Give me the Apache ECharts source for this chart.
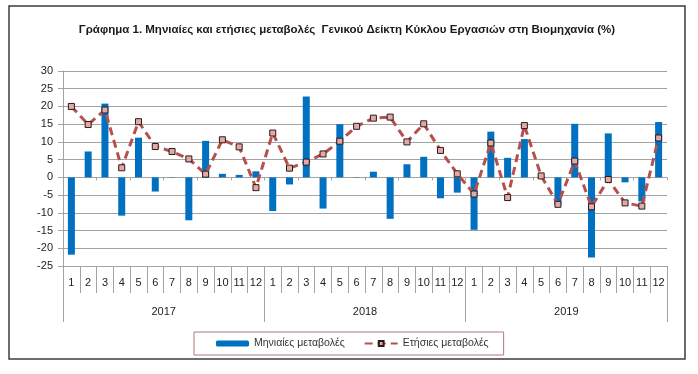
<!DOCTYPE html>
<html>
<head>
<meta charset="utf-8">
<script src="https://cdn.jsdelivr.net/npm/echarts@6/dist/echarts.min.js"></script>
<style>
html,body{margin:0;padding:0;background:#fff;}
#c{width:698px;height:374px;}
</style>
</head>
<body>
<div id="c"></div>
<script>
var months = ['1','2','3','4','5','6','7','8','9','10','11','12',
              '1','2','3','4','5','6','7','8','9','10','11','12',
              '1','2','3','4','5','6','7','8','9','10','11','12'];
var years = ['2017','2018','2019'];
var monthlyChange = [-21.8, 7.3, 20.8, -10.8, 11.2, -4.0, -0.1, -12.1, 10.3, 1.0, 0.7, 1.7,
                     -9.5, -2.0, 22.8, -8.8, 15.0, 0.1, 1.6, -11.7, 3.7, 5.8, -5.9, -4.3,
                     -14.8, 12.9, 5.5, 10.8, 0.3, -7.8, 15.1, -22.6, 12.4, -1.4, -6.8, 15.6];
var annualChange = [20.0, 14.9, 19.0, 2.7, 15.7, 8.7, 7.3, 5.2, 0.9, 10.6, 8.6, -2.9,
                    12.5, 2.6, 4.3, 6.6, 10.2, 14.4, 16.7, 17.0, 10.0, 15.1, 7.6, 1.0,
                    -4.7, 9.7, -5.7, 14.6, 0.4, -7.6, 4.6, -8.3, -0.6, -7.2, -8.1, 11.1];
var titleText = 'Γράφημα 1. Μηνιαίες και ετήσιες μεταβολές  Γενικού Δείκτη Κύκλου Εργασιών στη Βιομηχανία (%)';
var seriesNames = ['Μηνιαίες μεταβολές', 'Ετήσιες μεταβολές'];

var FONT = "'Liberation Sans', Arial, sans-serif";
var GRID = '#a3a3a3';
var chart = echarts.init(document.getElementById('c'), null, {renderer: 'canvas'});
chart.setOption({
  animation: false,
  backgroundColor: '#fff',
  textStyle: {fontFamily: FONT},
  graphic: [
    {type: 'rect', z: 100, shape: {x: 9, y: 6, width: 676, height: 353},
     style: {fill: 'none', stroke: '#3c3c3c', lineWidth: 1.5}},
    {type: 'text', z: 100, x: 347, y: 30,
     style: {text: titleText, fontFamily: FONT, fontWeight: 'bold', fontSize: 11.5,
             fill: '#1a1a1a', align: 'center', verticalAlign: 'middle'}}
  ],
  legend: {
    left: 194, top: 332,
    padding: [6, 15, 6, 22],
    borderColor: '#b07878', borderWidth: 1,
    itemWidth: 33, itemHeight: 6, itemGap: 19,
    textStyle: {fontFamily: FONT, fontSize: 10.5, color: '#333'},
    data: seriesNames
  },
  grid: {left: 63, right: 31, top: 71, bottom: 108, containLabel: false},
  xAxis: [
    {type: 'category', data: months, position: 'bottom',
     axisLine: {onZero: false, lineStyle: {color: GRID}},
     axisTick: {show: true, length: 27, lineStyle: {color: GRID}},
     axisLabel: {margin: 11, fontSize: 11, color: '#222', fontFamily: FONT, interval: 0}},
    {type: 'category', data: years, position: 'bottom',
     axisLine: {show: false, onZero: false},
     axisTick: {show: true, length: 56, lineStyle: {color: GRID}},
     axisLabel: {margin: 40, fontSize: 11, color: '#222', fontFamily: FONT}},
    {type: 'category', data: months, position: 'bottom',
     axisLine: {show: true, onZero: true, onZeroAxisIndex: 0, lineStyle: {color: GRID}},
     axisTick: {show: true, length: 3, lineStyle: {color: GRID}},
     axisLabel: {show: false}}
  ],
  yAxis: {
    type: 'value', min: -25, max: 30, interval: 5,
    axisLine: {show: true, lineStyle: {color: GRID}},
    axisTick: {show: true, length: 5, lineStyle: {color: GRID}},
    axisLabel: {margin: 10, fontSize: 11, color: '#222', fontFamily: FONT},
    splitLine: {show: true, lineStyle: {color: GRID, width: 1}}
  },
  series: [
    {name: seriesNames[0], type: 'bar', xAxisIndex: 0, data: monthlyChange,
     barWidth: 7, itemStyle: {color: '#0070C0'}, z: 2},
    {name: seriesNames[1], type: 'line', xAxisIndex: 0, data: annualChange,
     symbol: 'rect', symbolSize: 6,
     lineStyle: {color: '#B5504D', width: 3, type: [8, 5]},
     itemStyle: {color: '#E3A9A7', borderColor: '#2a1a1a', borderWidth: 1},
     z: 3}
  ]
});
</script>
</body>
</html>
